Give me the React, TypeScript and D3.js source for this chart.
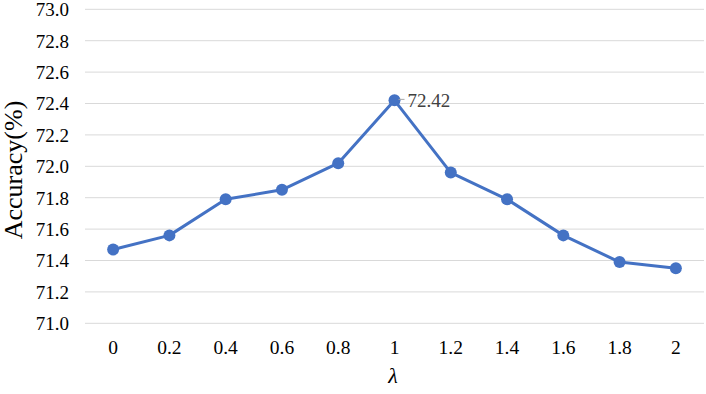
import React from "react";
import * as d3 from "d3";

const categories = ["0", "0.2", "0.4", "0.6", "0.8", "1", "1.2", "1.4", "1.6", "1.8", "2"];
const values = [71.47, 71.56, 71.79, 71.85, 72.02, 72.42, 71.96, 71.79, 71.56, 71.39, 71.35];
const yTicks = [71.0, 71.2, 71.4, 71.6, 71.8, 72.0, 72.2, 72.4, 72.6, 72.8, 73.0];
const labelIndex = 5;

const W = 706, H = 394;
const left = 85, right = 704, top = 9.3, bottom = 323.3;
const font = "Liberation Serif, Times New Roman, serif";

export default function App() {
  const x = d3.scaleBand().domain(categories).range([left, right]).padding(0);
  const y = d3.scaleLinear().domain([71, 73]).range([bottom, top]);
  const cx = (c: string) => (x(c) as number) + x.bandwidth() / 2;
  const line = d3.line<number>().x((_, i) => cx(categories[i])).y((v) => y(v));
  const lx = cx(categories[labelIndex]);
  const ly = y(values[labelIndex]);
  return (
    <svg width={W} height={H} style={{ position: "absolute", left: 0, top: 0, background: "#fff", fontFamily: font }}>
      {yTicks.map((t) => (
        <g key={t}>
          <line x1={left} x2={right} y1={y(t)} y2={y(t)} stroke="#d9d9d9" strokeWidth={1} />
          <text x={69} y={y(t) + 6.8} textAnchor="end" style={{ fontFamily: font, fontSize: 19 }} fill="#000">
            {t.toFixed(1)}
          </text>
        </g>
      ))}
      {categories.map((c) => (
        <text key={c} x={cx(c)} y={354} textAnchor="middle" style={{ fontFamily: font, fontSize: 19.5 }} fill="#000">
          {c}
        </text>
      ))}
      <path d={line(values) || ""} fill="none" stroke="#4472C4" strokeWidth={3} strokeLinejoin="round" />
      {values.map((v, i) => (
        <circle key={i} cx={cx(categories[i])} cy={y(v)} r={6} fill="#4472C4" />
      ))}
      <line x1={lx + 4} x2={lx + 10} y1={ly - 1} y2={ly - 1} stroke="#a6a6a6" strokeWidth={1} />
      <text x={lx + 13} y={ly + 6.8} style={{ fontFamily: font, fontSize: 19 }} fill="#404040">
        {values[labelIndex].toFixed(2)}
      </text>
      <text x={393} y={383} textAnchor="middle" style={{ fontFamily: font, fontSize: 22, fontStyle: "italic" }} fill="#000">
        λ
      </text>
      <text
        transform={`translate(22, 170) rotate(-90)`}
        textAnchor="middle"
        style={{ fontFamily: font, fontSize: 26 }}
        fill="#000"
      >
        Accuracy(%)
      </text>
    </svg>
  );
}
